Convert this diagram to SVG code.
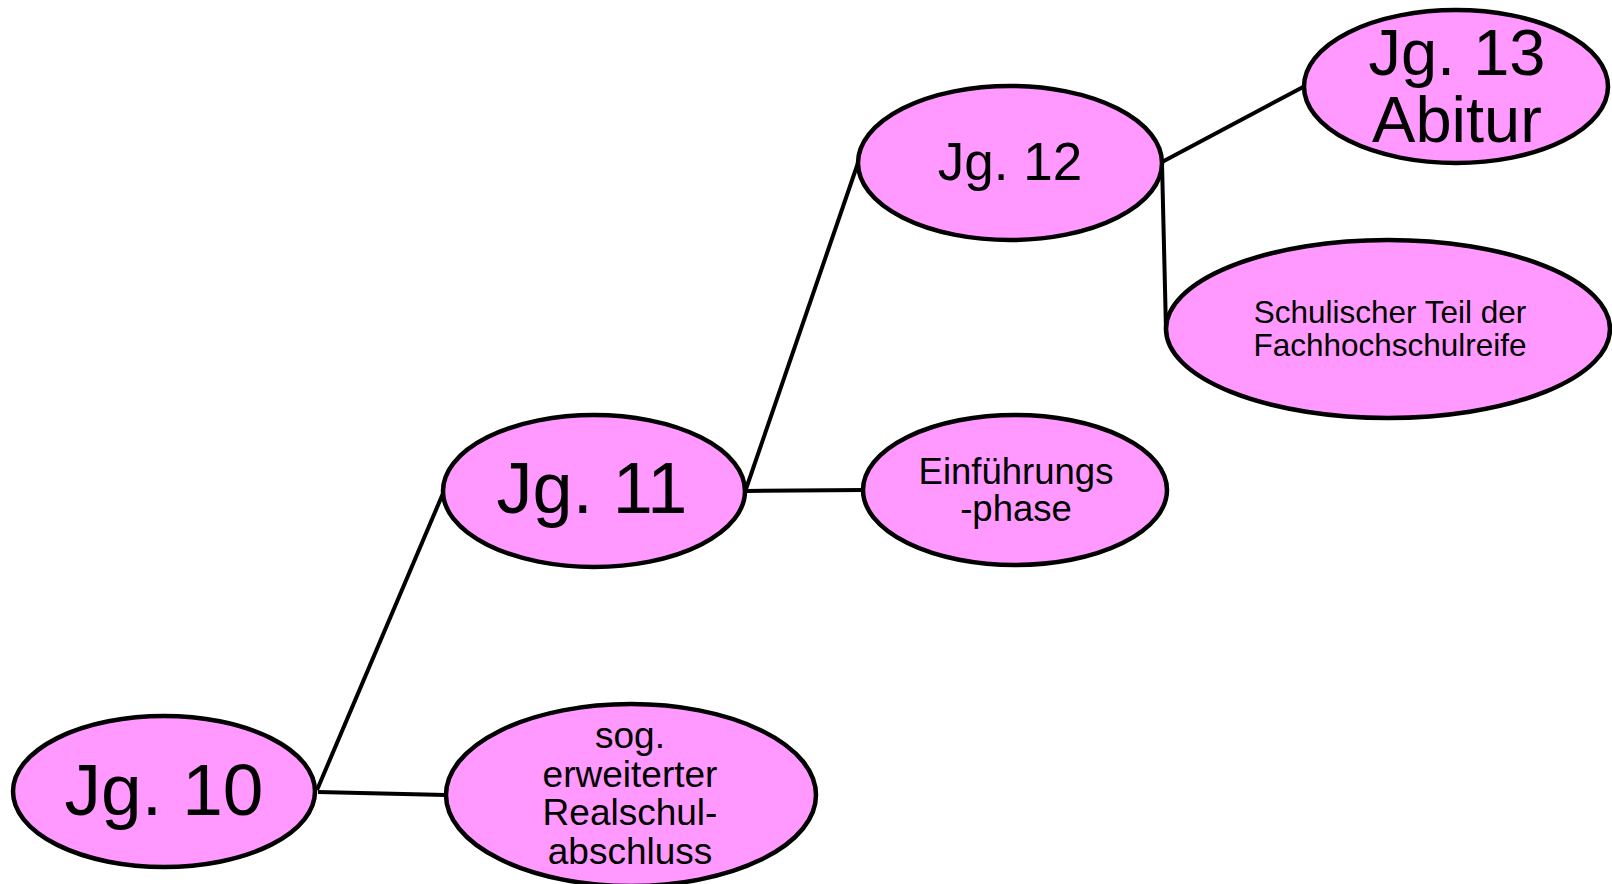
<svg xmlns="http://www.w3.org/2000/svg" width="1612" height="884" viewBox="0 0 1612 884">
<style>
.node{fill:#ff99ff;stroke:#000;stroke-width:4.5}
.edge{stroke:#000;stroke-width:4;fill:none}
text{font-family:"Liberation Sans",Arial,sans-serif;fill:#000;text-anchor:middle}
</style>
<rect width="1612" height="884" fill="#fff"/>
<g id="connectors">
<line class="edge" x1="318" y1="792" x2="446" y2="795"/>
<line class="edge" x1="317" y1="790" x2="444" y2="491"/>
<line class="edge" x1="746" y1="491" x2="864" y2="490"/>
<line class="edge" x1="746" y1="489" x2="859" y2="160"/>
<line class="edge" x1="1162" y1="162" x2="1305" y2="86"/>
<line class="edge" x1="1162" y1="163" x2="1166" y2="330"/>
</g>
<g id="jg10">
<ellipse class="node" cx="164" cy="791.5" rx="151" ry="75.5"/>
<text x="164" y="815" font-size="73">Jg. 10</text>
</g>
<g id="realschul">
<ellipse class="node" cx="631" cy="795" rx="185" ry="91"/>
<text x="630" y="748" font-size="37">sog.</text>
<text x="630" y="787" font-size="37">erweiterter</text>
<text x="630" y="825" font-size="37">Realschul-</text>
<text x="630" y="864" font-size="37">abschluss</text>
</g>
<g id="jg11">
<ellipse class="node" cx="594" cy="491" rx="151" ry="76"/>
<text x="592" y="513" font-size="72">Jg. 11</text>
</g>
<g id="einf">
<ellipse class="node" cx="1015" cy="490" rx="152" ry="75"/>
<text x="1016" y="484" font-size="36.5">Einführungs</text>
<text x="1016" y="521" font-size="36.5">-phase</text>
</g>
<g id="jg12">
<ellipse class="node" cx="1010" cy="163" rx="152" ry="77"/>
<text x="1010" y="180" font-size="53">Jg. 12</text>
</g>
<g id="jg13">
<ellipse class="node" cx="1456" cy="86.5" rx="152" ry="76.5"/>
<text x="1457" y="75" font-size="65">Jg. 13</text>
<text x="1457" y="142" font-size="65">Abitur</text>
</g>
<g id="fhr">
<ellipse class="node" cx="1388" cy="329" rx="222" ry="89"/>
<text x="1390" y="323" font-size="31.5">Schulischer Teil der</text>
<text x="1390" y="356" font-size="31.5">Fachhochschulreife</text>
</g>
</svg>
